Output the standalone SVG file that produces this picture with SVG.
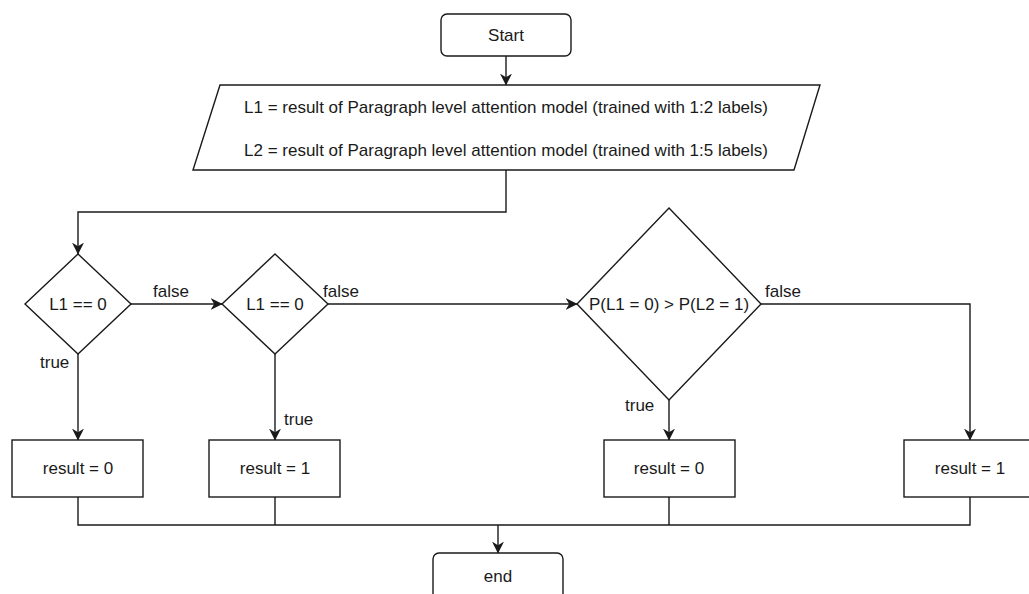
<svg xmlns="http://www.w3.org/2000/svg" width="1029" height="594" viewBox="0 0 1029 594">
<style>
.s{fill:#fff;stroke:#1a1a1a;stroke-width:1.4}
.c{fill:none;stroke:#1a1a1a;stroke-width:1.4}
text{font-family:"Liberation Sans",Arial,sans-serif;font-size:17px;fill:#1a1a1a}
.m{text-anchor:middle}
</style>
<defs>
<marker id="a" viewBox="0 0 10 10" refX="9.5" refY="5" markerWidth="12" markerHeight="12" markerUnits="userSpaceOnUse" orient="auto">
<path d="M0,0 L10,5 L0,10 L3,5 z" fill="#1a1a1a"/>
</marker>
</defs>
<g id="connectors">
<path class="c" d="M506,56 V85" marker-end="url(#a)"/>
<path class="c" d="M506,170 V212 H78 V254" marker-end="url(#a)"/>
<path class="c" d="M131,304 H222" marker-end="url(#a)"/>
<path class="c" d="M328,304 H577" marker-end="url(#a)"/>
<path class="c" d="M761,304 H970 V440" marker-end="url(#a)"/>
<path class="c" d="M78,354 V440" marker-end="url(#a)"/>
<path class="c" d="M275,354 V440" marker-end="url(#a)"/>
<path class="c" d="M669,400 V440" marker-end="url(#a)"/>
<path class="c" d="M78,497 V525 H970 V497 M275,497 V525 M669,497 V525"/>
<path class="c" d="M498,525 V553" marker-end="url(#a)"/>
<text x="153" y="297">false</text>
<text x="323" y="297">false</text>
<text x="765" y="297">false</text>
<text x="40" y="368">true</text>
<text x="284" y="425">true</text>
<text x="625" y="411">true</text>
</g>
<g id="start">
<rect class="s" x="441" y="14" width="130" height="42" rx="6"/>
<text class="m" x="506" y="41">Start</text>
</g>
<g id="input">
<polygon class="s" points="220,85 820,85 794,170 193,170"/>
<text class="m" x="506" y="113">L1 = result of Paragraph level attention model (trained with 1:2 labels)</text>
<text class="m" x="506" y="156">L2 = result of Paragraph level attention model (trained with 1:5 labels)</text>
</g>
<g id="d1">
<polygon class="s" points="78,254 131,304 78,354 25,304"/>
<text class="m" x="78" y="310">L1 == 0</text>
</g>
<g id="d2">
<polygon class="s" points="275,254 328,304 275,354 222,304"/>
<text class="m" x="275" y="310">L1 == 0</text>
</g>
<g id="d3">
<polygon class="s" points="669,208 761,304 669,400 577,304"/>
<text class="m" x="669" y="310">P(L1 = 0) &gt; P(L2 = 1)</text>
</g>
<g id="r1">
<rect class="s" x="12" y="440" width="131" height="57"/>
<text class="m" x="78" y="474">result = 0</text>
</g>
<g id="r2">
<rect class="s" x="209" y="440" width="131" height="57"/>
<text class="m" x="275" y="474">result = 1</text>
</g>
<g id="r3">
<rect class="s" x="604" y="440" width="131" height="57"/>
<text class="m" x="669" y="474">result = 0</text>
</g>
<g id="r4">
<rect class="s" x="904" y="440" width="131" height="57"/>
<text class="m" x="970" y="474">result = 1</text>
</g>
<g id="end">
<rect class="s" x="433" y="553" width="130" height="50" rx="6"/>
<text class="m" x="498" y="582">end</text>
</g>
</svg>
